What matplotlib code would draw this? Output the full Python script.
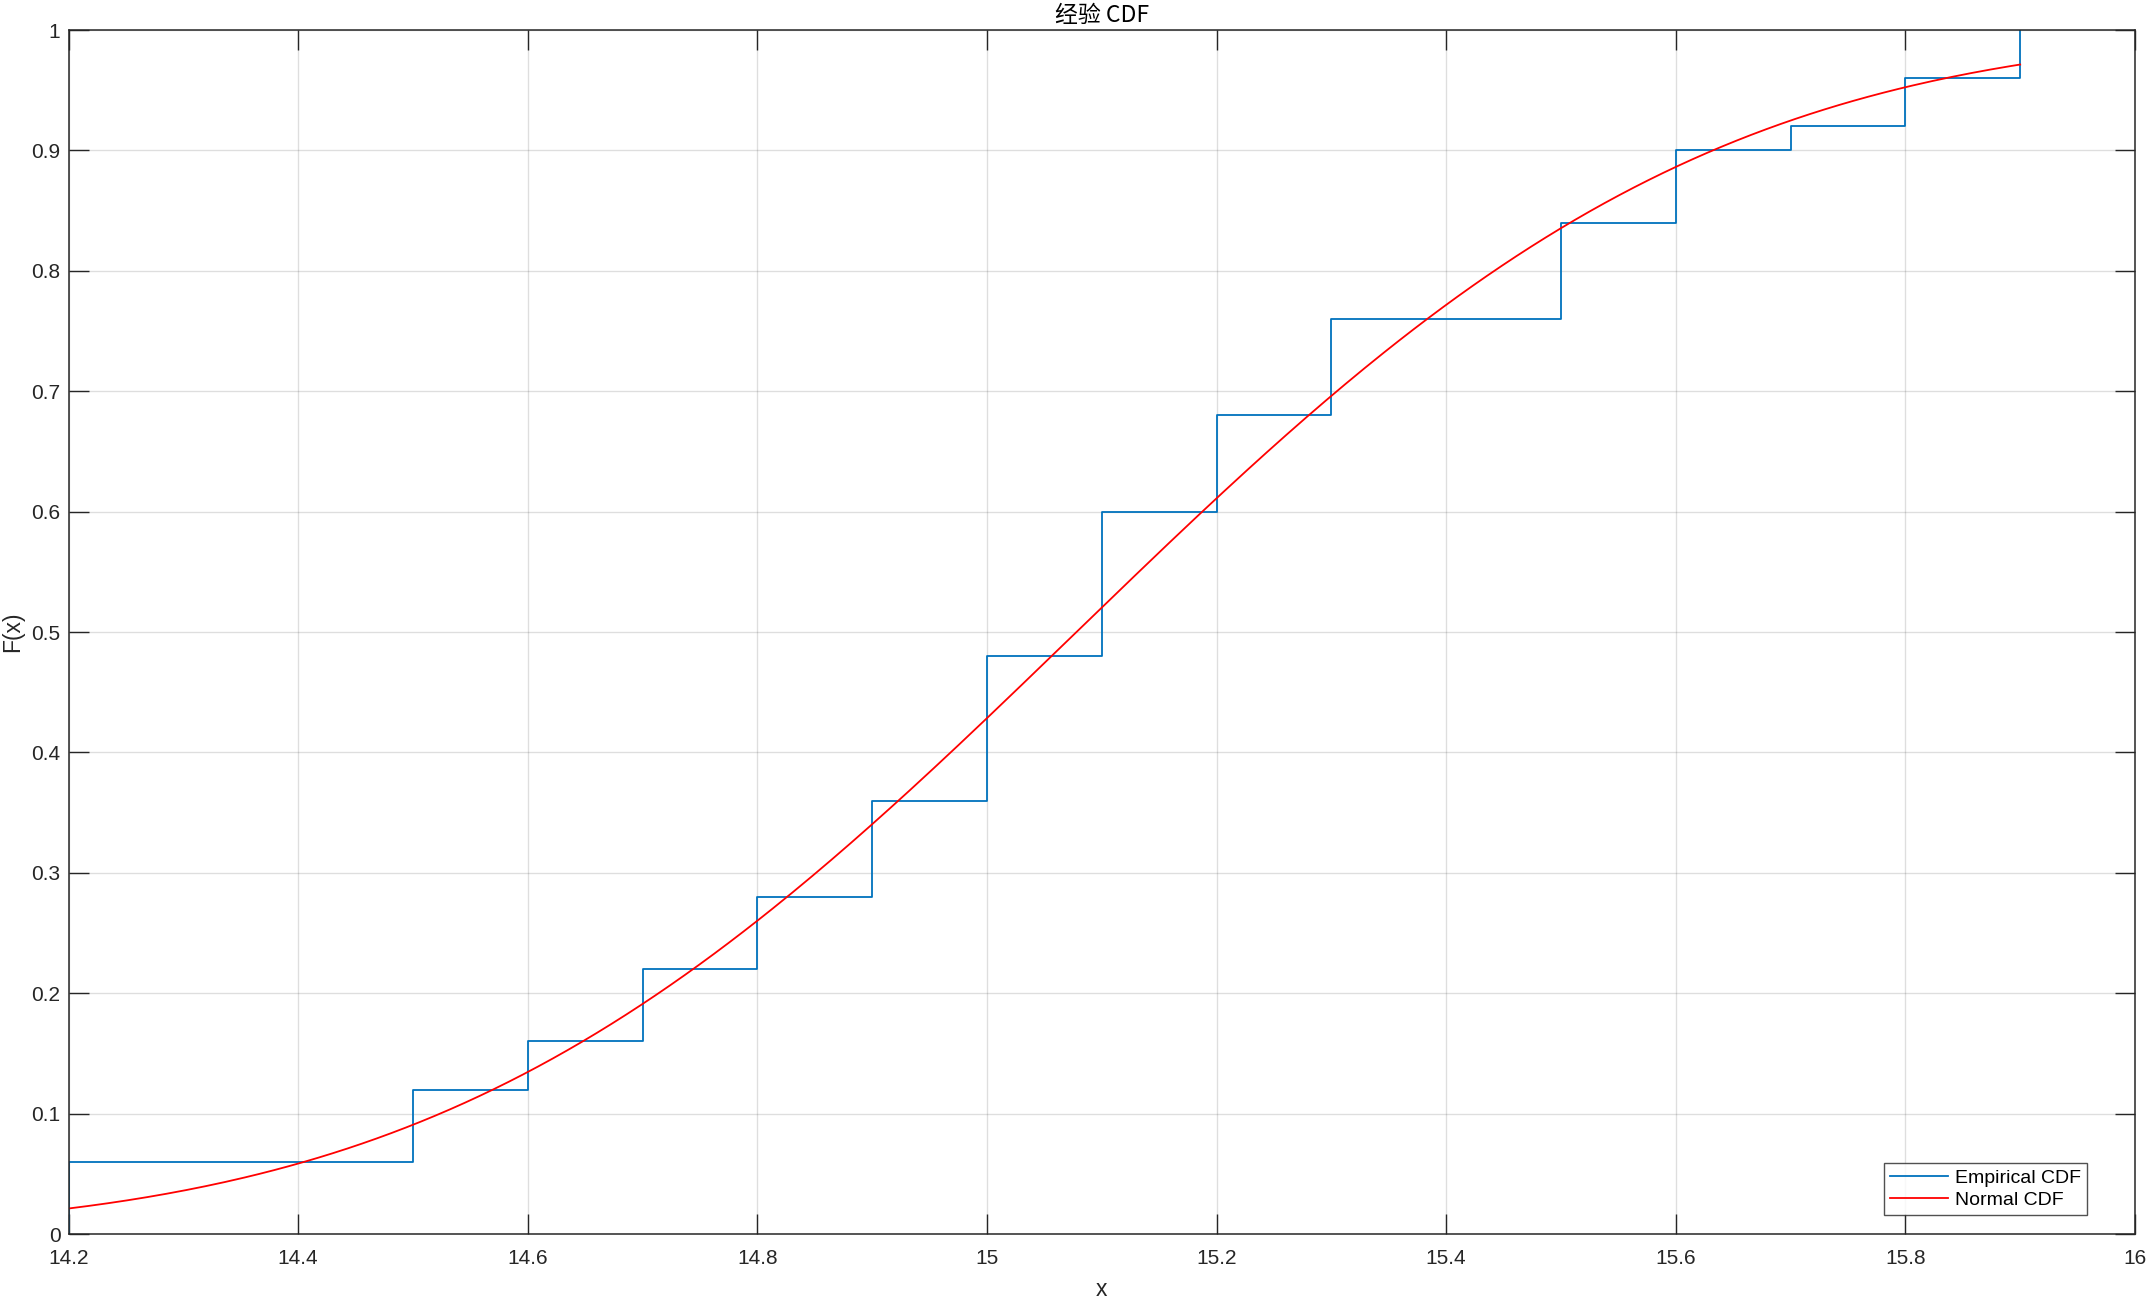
import math
import numpy as np
import matplotlib
matplotlib.use("Agg")
import matplotlib.pyplot as plt

plt.rcParams["font.family"] = ["Liberation Sans", "Noto Sans CJK SC", "DejaVu Sans"]

x_vals = [14.2, 14.5, 14.6, 14.7, 14.8, 14.9, 15.0, 15.1, 15.2, 15.3,
          15.5, 15.6, 15.7, 15.8, 15.9]
counts = [3, 3, 2, 3, 3, 4, 6, 6, 4, 4, 4, 3, 1, 2, 2]

xticks = [14.2, 14.4, 14.6, 14.8, 15, 15.2, 15.4, 15.6, 15.8, 16]
xtick_labels = ["14.2", "14.4", "14.6", "14.8", "15", "15.2", "15.4", "15.6", "15.8", "16"]
yticks = [0, 0.1, 0.2, 0.3, 0.4, 0.5, 0.6, 0.7, 0.8, 0.9, 1]
ytick_labels = ["0", "0.1", "0.2", "0.3", "0.4", "0.5", "0.6", "0.7", "0.8", "0.9", "1"]

data = np.repeat(x_vals, counts)
n = len(data)
F = np.cumsum(counts) / n
sx = np.r_[x_vals[0], x_vals]
sf = np.r_[0.0, F]

mu = data.mean()
sd = data.std(ddof=1)
xx = np.linspace(data.min(), data.max(), 400)
ncdf = np.array([0.5 * (1 + math.erf((v - mu) / (sd * math.sqrt(2)))) for v in xx])

W, H, DPI = 2149, 1297, 100
PX = 72 / DPI  # points per pixel
fig = plt.figure(figsize=(W / DPI, H / DPI), dpi=DPI)
ax = fig.add_axes([68.5 / W, 1 - 1234 / H, (2135 - 68.5) / W, (1234 - 30) / H])

ax.step(sx, sf, where="post", color="#0072BD", lw=1.3, label="Empirical CDF")
ax.plot(xx, ncdf, color="#FF0000", lw=1.3, label="Normal CDF")

ax.set_xlim(14.2, 16)
ax.set_ylim(0, 1)
ax.set_xticks(xticks)
ax.set_xticklabels(xtick_labels)
ax.set_yticks(yticks)
ax.set_yticklabels(ytick_labels)
ax.grid(True, color="#262626", alpha=0.15, lw=1)
ax.set_axisbelow(True)
ax.tick_params(direction="in", length=20 * PX, width=1.0, colors="#262626",
               labelsize=15, top=True, right=True)
ax.tick_params(axis="x", pad=15 * PX)
ax.tick_params(axis="y", pad=8 * PX)
for s in ax.spines.values():
    s.set_color("#262626")
    s.set_linewidth(1.1)

ax.set_title("经验 CDF", fontsize=16.5, color="#000000", pad=8 * PX,
             family=["Noto Sans CJK SC", "Liberation Sans"])
ax.set_xlabel("x", fontsize=16.5, color="#262626", labelpad=10 * PX)
ax.set_ylabel("F(x)", fontsize=16.5, color="#262626", labelpad=7 * PX)

# legend box lower-right corner at pixel (2087, 1215)
leg = ax.legend(loc="lower right",
                bbox_to_anchor=((2087 - 68.5) / (2135 - 68.5), (1234 - 1215) / (1234 - 30)),
                borderaxespad=0, fontsize=14,
                frameon=True, fancybox=False, edgecolor="#262626",
                handlelength=3.0, borderpad=0.3, labelspacing=0.25, handletextpad=0.35)
leg.get_frame().set_linewidth(1.0)

fig.savefig("out.png", dpi=DPI)
